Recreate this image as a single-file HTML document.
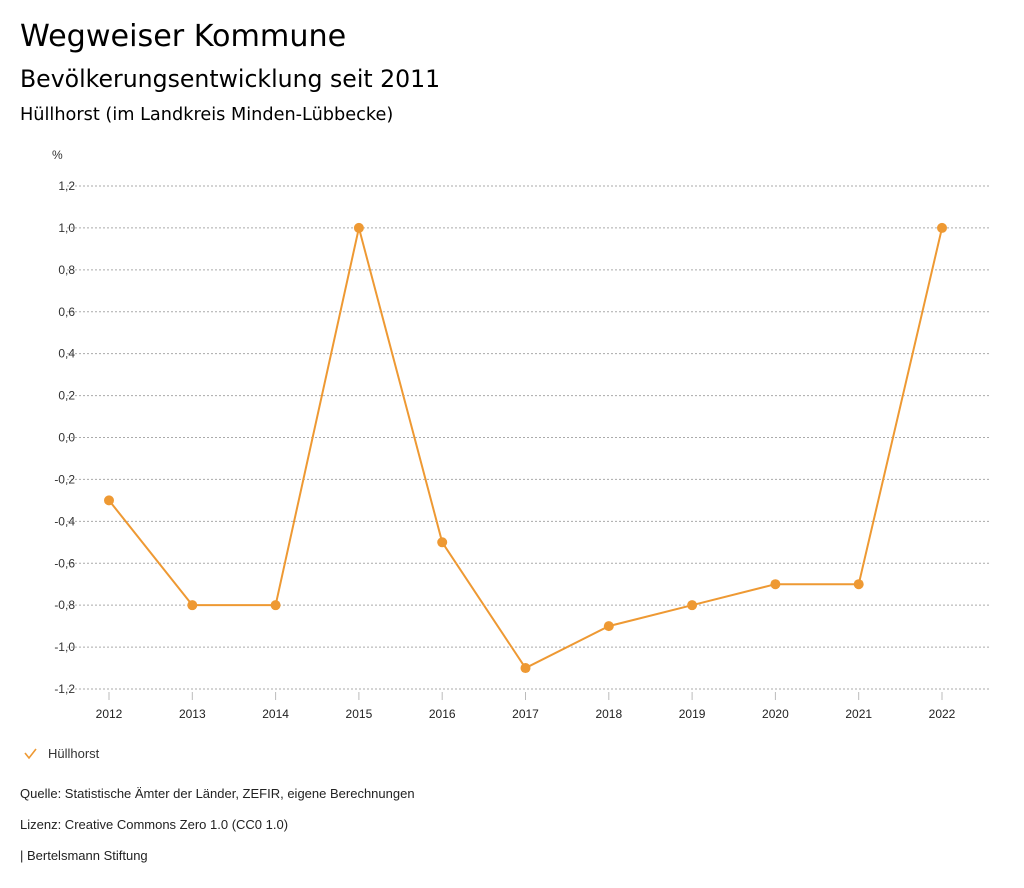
<!DOCTYPE html>
<html><head><meta charset="utf-8"><style>
body{margin:0;background:#fff;font-family:"Liberation Sans",sans-serif;color:#000;}
.t{position:absolute;white-space:nowrap;}
.h{font-family:"DejaVu Sans",sans-serif;}
</style></head><body>
<div style="position:relative;width:1024px;height:888px;overflow:hidden">
<div class="t h" style="left:20px;top:19px;font-size:30.2px">Wegweiser Kommune</div>
<div class="t h" style="left:20px;top:65px;font-size:23.6px">Bevölkerungsentwicklung seit 2011</div>
<div class="t h" style="left:20px;top:105px;font-size:17.7px">Hüllhorst (im Landkreis Minden-Lübbecke)</div>
<svg id="chart" width="1024" height="888" style="position:absolute;left:0;top:0"></svg>
<div class="t" style="left:48px;top:746px;font-size:13px;color:#333">Hüllhorst</div>
<div class="t" style="left:20px;top:786px;font-size:13px;color:#222">Quelle: Statistische Ämter der Länder, ZEFIR, eigene Berechnungen</div>
<div class="t" style="left:20px;top:817px;font-size:13px;color:#222">Lizenz: Creative Commons Zero 1.0 (CC0 1.0)</div>
<div class="t" style="left:20px;top:848px;font-size:13px;color:#222">| Bertelsmann Stiftung</div>
</div>
<script>
const years=[2012,2013,2014,2015,2016,2017,2018,2019,2020,2021,2022];
const values=[-0.3,-0.8,-0.8,1.0,-0.5,-1.1,-0.9,-0.8,-0.7,-0.7,1.0];
const yTicks=[1.2,1.0,0.8,0.6,0.4,0.2,0.0,-0.2,-0.4,-0.6,-0.8,-1.0,-1.2];
const svg=document.getElementById('chart');const NS='http://www.w3.org/2000/svg';
const x0=109,x1=942,yTop=186,yBot=689,yMax=1.2,yMin=-1.2;
function xs(i){return x0+(x1-x0)*i/(years.length-1);}
function ys(v){return yTop+(yMax-v)/(yMax-yMin)*(yBot-yTop);}
function mk(t,a){const e=document.createElementNS(NS,t);for(const k in a)e.setAttribute(k,a[k]);svg.appendChild(e);return e;}
let u=mk('text',{x:52,y:159,'font-size':12,fill:'#333'});u.textContent='%';


yTicks.forEach(v=>{const y=ys(v);
 const g=mk('line',{x1:67,x2:990,y1:y,y2:y,stroke:'#aaa','stroke-width':1,'stroke-dasharray':'2,2'});
 
 
 const t=mk('text',{x:75,y:y+4,'text-anchor':'end','font-size':12,fill:'#333'});
 t.textContent=v.toFixed(1).replace('.',',');
 
 });
years.forEach((yr,i)=>{const x=xs(i);
 const tk=mk('line',{x1:x,x2:x,y1:yBot+3,y2:yBot+11,stroke:'#bbb'});
 
 
 const t=mk('text',{x:x,y:718,'text-anchor':'middle','font-size':12,fill:'#222'});t.textContent=yr;
 
 });
const p=mk('polyline',{points:values.map((v,i)=>xs(i)+','+ys(v)).join(' '),fill:'none',stroke:'#ee9933','stroke-width':2});


values.forEach((v,i)=>{const c=mk('circle',{cx:xs(i),cy:ys(v),r:5,fill:'#ee9933'});
 
 });
const lg=mk('polyline',{points:'25,753 29,758 36,749',fill:'none',stroke:'#ee9933','stroke-width':1.6});


</script>
</body></html>
